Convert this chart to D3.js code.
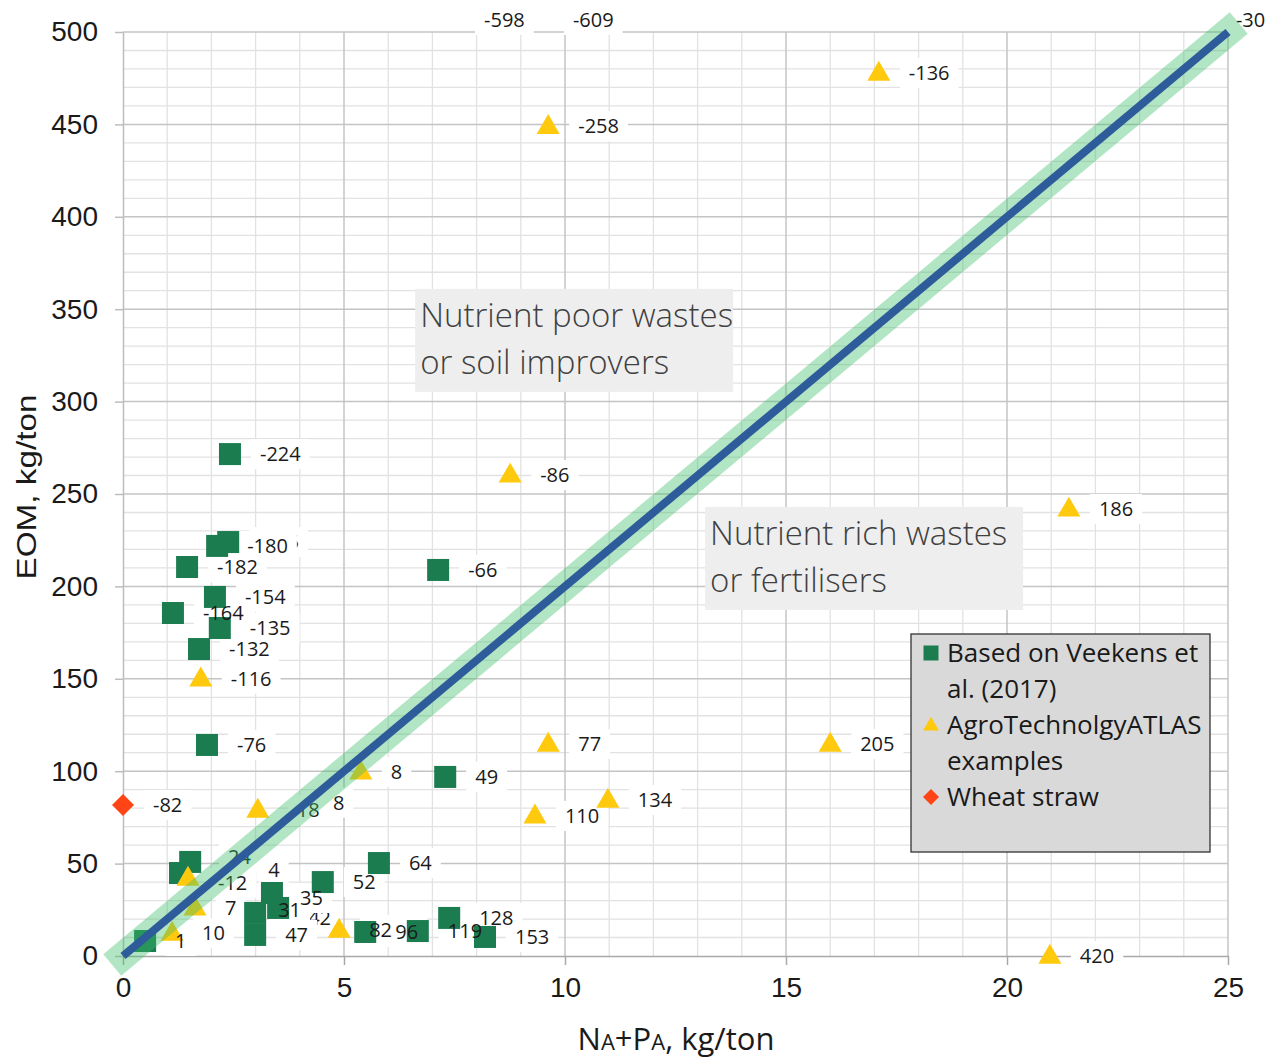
<!DOCTYPE html>
<html>
<head>
<meta charset="utf-8">
<script src="https://cdn.jsdelivr.net/npm/d3@7"></script>
<style>
  body { margin: 0; background: #fff; }
  svg { display: block; }
</style>
</head>
<body>
<svg id="chart" width="1277" height="1059"></svg>
<script>
// ---- data ----
const veekens = [
    {x: 2.42, y: 271.6, label: "-224"},
    {x: 2.38, y: 224.0, label: "-175"},
    {x: 2.13, y: 221.9, label: "-180"},
    {x: 1.45, y: 210.5, label: "-182"},
    {x: 2.08, y: 194.3, label: "-154"},
    {x: 1.13, y: 185.6, label: "-164"},
    {x: 2.19, y: 177.5, label: "-135"},
    {x: 1.72, y: 166.1, label: "-132"},
    {x: 1.90, y: 114.2, label: "-76"},
    {x: 7.13, y: 208.9, label: "-66"},
    {x: 7.29, y: 96.9, label: "49"},
    {x: 5.79, y: 50.3, label: "64"},
    {x: 4.52, y: 40.0, label: "52"},
    {x: 1.29, y: 44.9, label: "24"},
    {x: 1.52, y: 50.9, label: "4"},
    {x: 3.51, y: 26.0, label: "42"},
    {x: 3.37, y: 34.1, label: "35"},
    {x: 2.99, y: 23.3, label: "31"},
    {x: 2.99, y: 11.4, label: "47"},
    {x: 5.48, y: 13.0, label: "96"},
    {x: 6.67, y: 13.5, label: "119"},
    {x: 7.38, y: 20.6, label: "128"},
    {x: 8.19, y: 10.3, label: "153"},
    {x: 0.50, y: 8.1, label: "1"}
];

const atlas = [
    {x: 17.10, y: 477.8, label: "-136"},
    {x: 9.62, y: 449.0, label: "-258"},
    {x: 8.76, y: 260.3, label: "-86"},
    {x: 21.40, y: 241.9, label: "186"},
    {x: 9.62, y: 114.7, label: "77"},
    {x: 16.00, y: 114.7, label: "205"},
    {x: 10.97, y: 84.4, label: "134"},
    {x: 9.32, y: 75.8, label: "110"},
    {x: 20.97, y: 0, label: "420"},
    {x: 5.38, y: 99.6, label: "8"},
    {x: 3.05, y: 79.0, label: "18"},
    {x: 1.76, y: 150.0, label: "-116"},
    {x: 4.89, y: 14.0, label: "82"},
    {x: 1.47, y: 42.2, label: "-12"},
    {x: 1.63, y: 26.0, label: "7"},
    {x: 1.11, y: 12.4, label: "10"},
    {x: 7.49, y: 598, label: "-598"},
    {x: 9.50, y: 609, label: "-609"},
    {x: 24.50, y: 530, label: "-30"}
];

const wheatStraw = [
    {x: 0, y: 81.7, label: "-82"}
];

// a label whose point sits hidden under the other labels
const strayLabels = [
    {x: 4.07, y: 83.0, label: "8"}
];

// 1:20 reference line (N+P = EOM/20)
const refLine = [{x: 0, y: 0}, {x: 25, y: 500}];

const xTicks = [0, 5, 10, 15, 20, 25];
const yTicks = [0, 50, 100, 150, 200, 250, 300, 350, 400, 450, 500];

const legendItems = [
    {shape: "square", lines: ["Based on Veekens et", "al. (2017)"]},
    {shape: "triangle", lines: ["AgroTechnolgyATLAS", "examples"]},
    {shape: "diamond", lines: ["Wheat straw"]}
];

const notes = [
    {x: 6.61, y: 361, lines: ["Nutrient poor wastes", "or soil improvers"]},
    {x: 13.17, y: 243, lines: ["Nutrient rich wastes", "or fertilisers"]}
];

// labels that are covered by neighbouring labels in the original
const hiddenLabels = new Set(["-175", "42", "24"]);

// small hand nudges for labels that Excel moved around
const labelNudge = {
    "31": [-7, -3],
    "35": [-2, 5],
    "42": [0, 10],
    "18": [9, 0],
    "4": [48, 8],
    "24": [18, -16],
    "-12": [0, 5]
};

// ---- styles ----
const greenColor = "#1b7c4f";
const yellowColor = "#ffc90e";
const redColor = "#ff4516";
const lineColor = "#2e5b99";
const bandColor = "#3cbf6b";
const labelFont = "'Open Sans', sans-serif";

const svg = d3.select("#chart");

const xScale = d3.scaleLinear().domain([0, 25]).range([123, 1228]);
const yScale = d3.scaleLinear().domain([0, 500]).range([956, 32]);

// ---- grid ----
const grid = svg.append("g").attr("class", "grid");

grid.selectAll(".minor-x")
    .data(d3.range(0, 26, 1).filter(v => v % 5 !== 0))
    .join("line")
        .attr("x1", d => xScale(d)).attr("x2", d => xScale(d))
        .attr("y1", yScale(0)).attr("y2", yScale(500))
        .attr("stroke", "#e2e2e2").attr("stroke-width", 1.3);

grid.selectAll(".minor-y")
    .data(d3.range(0, 501, 10).filter(v => v % 50 !== 0))
    .join("line")
        .attr("x1", xScale(0)).attr("x2", xScale(25))
        .attr("y1", d => yScale(d)).attr("y2", d => yScale(d))
        .attr("stroke", "#e2e2e2").attr("stroke-width", 1.3);

grid.selectAll(".major-x")
    .data(xTicks.filter(v => v > 0))
    .join("line")
        .attr("x1", d => xScale(d)).attr("x2", d => xScale(d))
        .attr("y1", yScale(0)).attr("y2", yScale(500))
        .attr("stroke", "#c4c4c4").attr("stroke-width", 1.5);

grid.selectAll(".major-y")
    .data(yTicks.filter(v => v > 0))
    .join("line")
        .attr("x1", xScale(0)).attr("x2", xScale(25))
        .attr("y1", d => yScale(d)).attr("y2", d => yScale(d))
        .attr("stroke", "#c4c4c4").attr("stroke-width", 1.5);

// ---- axes ----
const yAxis = svg.append("g")
    .attr("transform", `translate(${xScale(0)},0)`)
    .call(d3.axisLeft(yScale).tickValues(yTicks).tickSize(8).tickPadding(17).tickSizeOuter(0));
yAxis.select(".domain").attr("stroke", "#bdbdbd").attr("stroke-width", 1.5);
yAxis.selectAll(".tick line").attr("stroke", "#bdbdbd").attr("stroke-width", 1.5);
yAxis.selectAll(".tick text")
    .attr("fill", "#1a1a1a")
    .style("font-family", "'Liberation Sans', Arial, sans-serif")
    .style("font-size", "28px");

const xAxis = svg.append("g")
    .attr("transform", `translate(0,${yScale(0)})`)
    .call(d3.axisBottom(xScale).tickValues(xTicks).tickSize(9).tickPadding(12).tickSizeOuter(0));
xAxis.select(".domain").attr("stroke", "#a8a8a8").attr("stroke-width", 1.5);
xAxis.selectAll(".tick line").attr("stroke", "#a8a8a8").attr("stroke-width", 1.5);
xAxis.selectAll(".tick text")
    .attr("fill", "#1a1a1a")
    .style("font-family", "'Liberation Sans', Arial, sans-serif")
    .style("font-size", "28px");

// axis titles
svg.append("text")
    .attr("transform", `translate(36,487) rotate(-90)`)
    .attr("text-anchor", "middle")
    .attr("textLength", 185)
    .attr("lengthAdjust", "spacingAndGlyphs")
    .attr("fill", "#1a1a1a")
    .style("font-family", "'Liberation Sans', Arial, sans-serif")
    .style("font-size", "28px")
    .text("EOM, kg/ton");

const xTitle = svg.append("text")
    .attr("x", 676).attr("y", 1050)
    .attr("text-anchor", "middle")
    .attr("fill", "#1a1a1a")
    .style("font-family", labelFont)
    .style("font-size", "31px");
xTitle.append("tspan").text("N");
xTitle.append("tspan").style("font-size", "22px").text("A");
xTitle.append("tspan").text("+P");
xTitle.append("tspan").style("font-size", "22px").text("A");
xTitle.append("tspan").text(", kg/ton");

// ---- annotation boxes ----
const noteG = svg.selectAll(".note")
    .data(notes)
    .join("g")
        .attr("class", "note")
        .attr("transform", d => `translate(${xScale(d.x)},${yScale(d.y)})`);

noteG.append("rect")
    .attr("x", 0).attr("y", 0)
    .attr("width", 318).attr("height", 103)
    .attr("fill", "#eeeeee");

noteG.selectAll("text")
    .data(d => d.lines)
    .join("text")
        .attr("x", 5)
        .attr("y", (d, i) => 38 + i * 47)
        .attr("fill", "#404040")
        .style("font-family", labelFont)
        .style("font-weight", 300)
        .style("font-size", "33px")
        .text(d => d);

// ---- data labels, part 1: white boxes (under the markers) ----
const inRange = d => d.y <= 500;
const allLabels = [...veekens, ...atlas, ...wheatStraw, ...strayLabels].map(d => {
    const nudge = labelNudge[d.label] || [0, 0];
    return {
        label: d.label,
        lx: xScale(d.x) + 30 + nudge[0],
        ly: Math.max(yScale(d.y), yScale.range()[1] - 12) + nudge[1]
    };
});

const labelBack = svg.append("g").attr("class", "label-boxes");
const measure = svg.append("text")
    .style("font-family", labelFont)
    .style("font-size", "20px");

allLabels.forEach(d => {
    measure.text(d.label);
    const w = measure.node().getComputedTextLength();
    labelBack.append("rect")
        .attr("x", d.lx - 9).attr("y", d.ly - 15)
        .attr("width", w + 18).attr("height", 30)
        .attr("fill", "#fff");
    if (hiddenLabels.has(d.label)) {
        labelBack.append("text")
            .attr("x", d.lx).attr("y", d.ly)
            .attr("dy", "0.35em")
            .attr("fill", "#1a1a1a")
            .style("font-family", labelFont)
            .style("font-size", "20px")
            .text(d.label);
    }
});
measure.remove();

// ---- markers ----
const markers = svg.append("g").attr("class", "markers");

markers.selectAll(".veekens")
    .data(veekens.filter(inRange))
    .join("rect")
        .attr("class", "veekens")
        .attr("x", d => xScale(d.x) - 11)
        .attr("y", d => yScale(d.y) - 11)
        .attr("width", 22).attr("height", 22)
        .attr("fill", greenColor);

const triangle = d3.symbol().type(d3.symbolTriangle).size(230);
markers.selectAll(".atlas")
    .data(atlas.filter(inRange))
    .join("path")
        .attr("class", "atlas")
        .attr("d", triangle)
        .attr("transform", d => `translate(${xScale(d.x)},${yScale(d.y) + 1})`)
        .attr("fill", yellowColor);

markers.selectAll(".straw")
    .data(wheatStraw)
    .join("path")
        .attr("class", "straw")
        .attr("d", "M0,-11L11,0L0,11L-11,0Z")
        .attr("transform", d => `translate(${xScale(d.x)},${yScale(d.y)})`)
        .attr("fill", redColor);

// ---- data labels, part 2: the texts on top ----
svg.append("g").attr("class", "label-texts")
    .selectAll("text")
    .data(allLabels.filter(d => !hiddenLabels.has(d.label)))
    .join("text")
        .attr("x", d => d.lx).attr("y", d => d.ly)
        .attr("dy", "0.35em")
        .attr("fill", "#1a1a1a")
        .style("font-family", labelFont)
        .style("font-size", "20px")
        .text(d => d.label);

// ---- legend ----
const legend = svg.append("g").attr("transform", "translate(911,634)");
legend.append("rect")
    .attr("width", 299).attr("height", 218)
    .attr("fill", "#d9d9d9")
    .attr("stroke", "#333").attr("stroke-width", 1.3);

let rowY = 19;
legendItems.forEach(item => {
    const mark = legend.append("g").attr("transform", `translate(20,${rowY})`);
    if (item.shape === "square") {
        mark.append("rect").attr("x", -7.5).attr("y", -7.5).attr("width", 15).attr("height", 15).attr("fill", greenColor);
    } else if (item.shape === "triangle") {
        mark.append("path").attr("d", d3.symbol().type(d3.symbolTriangle).size(110)).attr("transform", "translate(0,1)").attr("fill", yellowColor);
    } else {
        mark.append("path").attr("d", "M0,-8L8,0L0,8L-8,0Z").attr("fill", redColor);
    }
    item.lines.forEach((line, i) => {
        legend.append("text")
            .attr("x", 36).attr("y", rowY + i * 36)
            .attr("dy", "0.35em")
            .attr("fill", "#1a1a1a")
            .style("font-family", labelFont)
            .style("font-size", "26px")
            .text(line);
    });
    rowY += item.lines.length * 36;
});

// ---- 1:20 line with green band, drawn on top like Excel shapes ----
const lineGen = d3.line().x(d => xScale(d.x)).y(d => yScale(d.y));

svg.append("path")
    .datum(refLine)
    .attr("d", lineGen)
    .attr("fill", "none")
    .attr("stroke", bandColor)
    .attr("stroke-opacity", 0.4)
    .attr("stroke-width", 28)
    .attr("stroke-linecap", "square");

svg.append("path")
    .datum(refLine)
    .attr("d", lineGen)
    .attr("fill", "none")
    .attr("stroke", lineColor)
    .attr("stroke-width", 8)
    .attr("stroke-linecap", "butt");
</script>
</body>
</html>
